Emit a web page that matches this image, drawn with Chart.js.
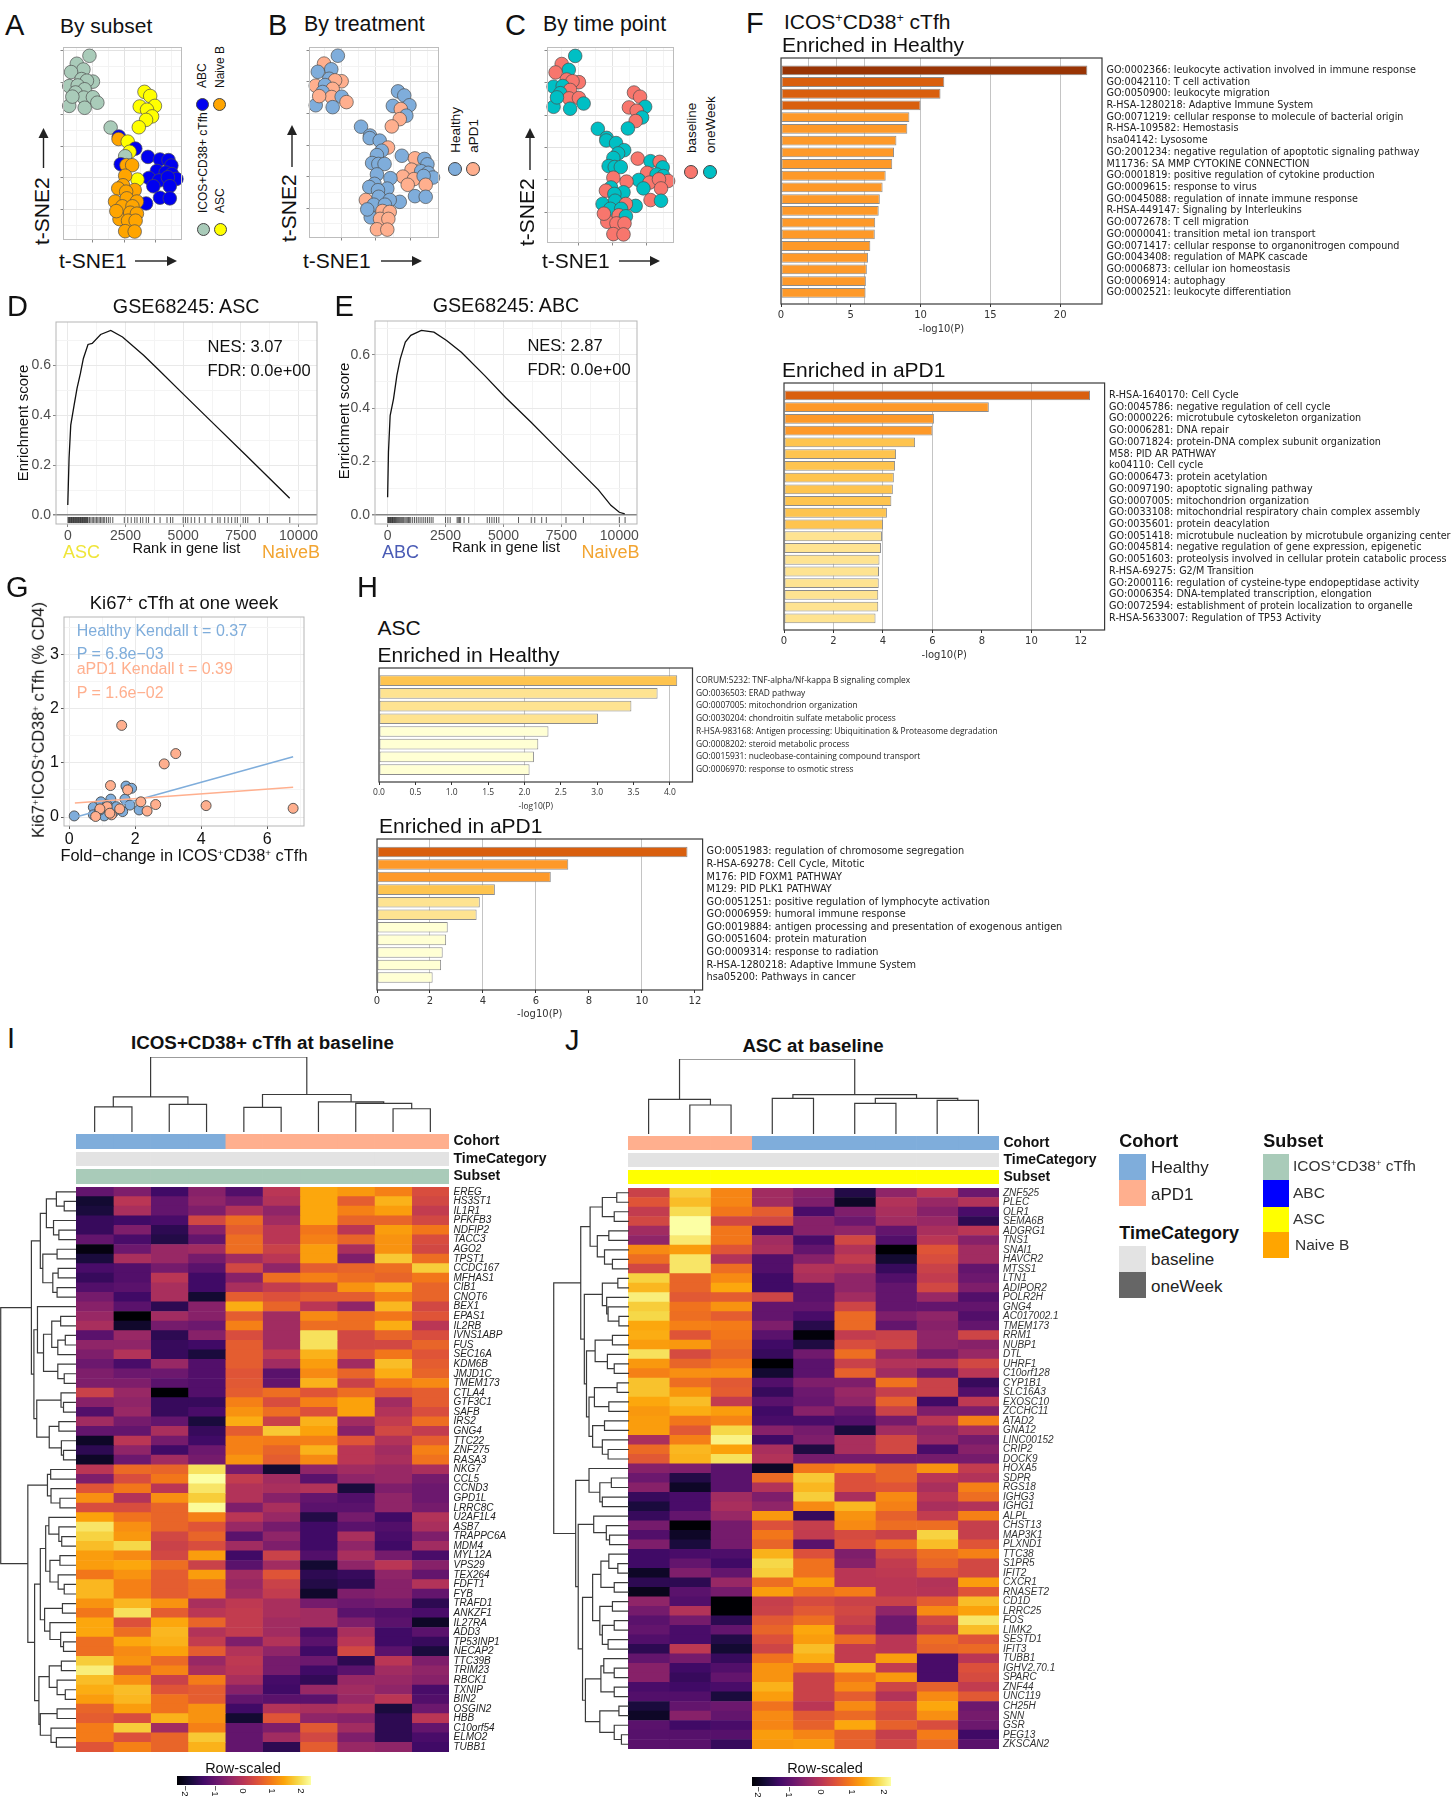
<!DOCTYPE html>
<html>
<head>
<meta charset="utf-8">
<title>Figure</title>
<script src="https://cdn.jsdelivr.net/npm/chart.js@4"></script>
<style>
  html, body { margin: 0; background: #fff; }
  #page { position: relative; width: 1453px; height: 1800px; overflow: hidden; font-family: "Liberation Sans", Arial, sans-serif; color: #111; }
  #page canvas { position: absolute; }
  .t { position: absolute; left: 0; top: 0; white-space: nowrap; line-height: 1; transform-origin: 0 0; }
  .swatch { position: absolute; }
  .dot { position: absolute; border-radius: 50%; border: 0.8px solid #444; box-sizing: border-box; }
  sup { font-size: 0.6em; line-height: 0; vertical-align: baseline; position: relative; top: -0.55em; }
</style>
</head>
<body>
<div id="page"></div>
<script>
// t-SNE panels A, B, C: one row per sample
const tsne1 = [-11.0,-15.0,-12.9,-16.8,-9.9,-13.5,-11.8,-17.4,-14.7,-12.5,-15.4,-12.8,-9.9,-8.5,-17.4,-12.5,-16.4,-4.3,
  6.4,8.2,4.9,9.7,7.2,8.8,6.9,4.6,-1.7,-1.8,1.1,3.5,1.7,0.3,-1.1,0.7,2.5,7.5,11.3,14.0,14.9,10.3,13.1,15.1,7.8,16.5,11.0,13.8,9.2,14.4,11.3,14.4,6.9,
  4.2,0.3,-0.4,3.3,-1.9,0.6,-2.9,0.8,4.0,-0.6,2.6,-1.5,1.9,4.0,1.2,3.6,0.3,3.3,-2.5];
const tsne2 = [28.3,25.8,24.0,23.2,20.2,21.0,20.5,18.8,19.0,17.8,16.8,15.2,15.3,13.6,12.6,12.0,15.5,5.8,
  17.0,15.7,12.4,12.6,11.4,9.3,8.2,5.9,3.0,2.2,1.4,-0.8,-1.8,-3.2,-5.7,-6.0,-6.0,-3.4,-4.2,-4.4,-6.1,-7.8,-8.3,-8.8,-10.0,-10.3,-10.8,-9.8,-12.6,-12.6,-16.2,-16.4,-18.0,
  -10.5,-9.3,-12.3,-13.8,-13.3,-14.3,-17.4,-16.4,-17.4,-18.9,-18.9,-22.9,-20.9,-21.2,-23.4,-23.4,-26.7,-26.8,-20.4];
const subsetCodes = 'IIIIIIIIIIIIIIIIII' + 'AAAAAAAA' + 'BNABAIBNN' + 'BBBBBBBBBBBBBBBB' + 'A' + 'NNNNNNNNNNNNNNNNNN';
const cohortCodes = 'HPHHPHPPHPHPHPHHPH' + 'HHHHPHPP' + 'HHHPHHHHHH' + 'PHHPHHPHPHPPHHH' + 'HHHHHHPHHHHHPPPPPPH';
const timeCodes = 'wbwbbbbwwbwbbwwwww' + 'bbbwbwbw' + 'wwwwwwwwwb' + 'wbwbwwwbbbwbbww' + 'bbwwbwwwbwwbbwbbbbb';
const subsetColors = { I: '#A9CBB9', B: '#0000F0', A: '#FFFF00', N: '#FFA500' };
const cohortColors = { H: '#7FADDB', P: '#FFAF8E' };
const timeColors = { b: '#F8766D', w: '#00BFC4' };

// GSEA panels D, E
const ascCurveRank = [0,55,128,274,400,547,675,876,1058,1423,1861,2372,3285,3923,5018,6204,7755,9617];
const ascCurveScore = [0.04,0.227,0.36,0.44,0.507,0.567,0.627,0.683,0.687,0.723,0.739,0.713,0.64,0.583,0.483,0.376,0.236,0.067];
const ascRug = [10,40,70,100,130,160,190,220,250,280,310,340,370,400,430,460,490,520,550,580,610,640,670,700,730,760,790,820,850,880,
  940,1000,1060,1120,1180,1240,1300,1360,1420,1480,1540,1600,1680,1760,1840,1950,2450,2600,2750,2900,3000,3150,3250,3400,3500,3750,
  4000,4300,4450,4550,5000,5100,5200,5350,5500,5700,5950,6250,6500,6600,6800,6950,7100,7250,7350,7600,7700,7800,8300,8650,9620];
const abcCurveRank = [0,36,109,255,400,545,764,1000,1455,2000,2545,3182,4182,5090,6182,7000,8182,9090,9636,10000,10236];
const abcCurveScore = [0.065,0.234,0.372,0.435,0.523,0.585,0.648,0.673,0.692,0.685,0.654,0.61,0.523,0.44,0.348,0.276,0.173,0.094,0.035,0.009,0.003];
const abcRug = [10,30,60,90,120,150,180,210,240,270,300,340,380,420,460,500,540,580,620,660,700,750,800,850,900,950,1000,1080,1160,
  1240,1320,1400,1480,1560,1640,1720,1800,1880,1960,2500,2600,2700,3000,3050,3100,3150,3300,3500,4300,4400,4500,4600,4700,4800,5650,6200,6350,6650,6850,7700,8450,10000,10250];
const rankTicks = [0,1250,2500,3750,5000,6250,7500,8750,10000];
const rankLabels = [0,2500,5000,7500,10000];
const ascScoreTicks = [0,0.1,0.2,0.3,0.4,0.5,0.6,0.7];
const abcScoreTicks = [0,0.1,0.2,0.3,0.4,0.5,0.6,0.7];
const scoreLabels = [0,0.2,0.4,0.6];

// Enrichment bars, panels F and H
const termsF1 = ['GO:0002366: leukocyte activation involved in immune response','GO:0042110: T cell activation','GO:0050900: leukocyte migration','R-HSA-1280218: Adaptive Immune System','GO:0071219: cellular response to molecule of bacterial origin','R-HSA-109582: Hemostasis','hsa04142: Lysosome','GO:2001234: negative regulation of apoptotic signaling pathway','M11736: SA MMP CYTOKINE CONNECTION','GO:0001819: positive regulation of cytokine production','GO:0009615: response to virus','GO:0045088: regulation of innate immune response','R-HSA-449147: Signaling by Interleukins','GO:0072678: T cell migration','GO:0000041: transition metal ion transport','GO:0071417: cellular response to organonitrogen compound','GO:0043408: regulation of MAPK cascade','GO:0006873: cellular ion homeostasis','GO:0006914: autophagy','GO:0002521: leukocyte differentiation'];
const valuesF1 = [21.95,11.7,11.43,10.0,9.2,9.05,8.27,8.1,7.97,7.5,7.28,7.08,7.0,6.75,6.72,6.4,6.23,6.15,6.08,6.06];
const termsF2 = ['R-HSA-1640170: Cell Cycle','GO:0045786: negative regulation of cell cycle','GO:0000226: microtubule cytoskeleton organization','GO:0006281: DNA repair','GO:0071824: protein-DNA complex subunit organization','M58: PID AR PATHWAY','ko04110: Cell cycle','GO:0006473: protein acetylation','GO:0097190: apoptotic signaling pathway','GO:0007005: mitochondrion organization','GO:0033108: mitochondrial respiratory chain complex assembly','GO:0035601: protein deacylation','GO:0051418: microtubule nucleation by microtubule organizing center','GO:0045814: negative regulation of gene expression, epigenetic','GO:0051603: proteolysis involved in cellular protein catabolic process','R-HSA-69275: G2/M Transition','GO:2000116: regulation of cysteine-type endopeptidase activity','GO:0006354: DNA-templated transcription, elongation','GO:0072594: establishment of protein localization to organelle','R-HSA-5633007: Regulation of TP53 Activity'];
const valuesF2 = [12.37,8.28,6.06,6.0,5.3,4.53,4.49,4.44,4.4,4.34,4.16,4.0,3.96,3.92,3.86,3.84,3.83,3.81,3.81,3.7];
const termsH1 = ['CORUM:5232: TNF-alpha/Nf-kappa B signaling complex','GO:0036503: ERAD pathway','GO:0007005: mitochondrion organization','GO:0030204: chondroitin sulfate metabolic process','R-HSA-983168: Antigen processing: Ubiquitination & Proteasome degradation','GO:0008202: steroid metabolic process','GO:0015931: nucleobase-containing compound transport','GO:0006970: response to osmotic stress'];
const valuesH1 = [4.1,3.83,3.47,3.01,2.33,2.19,2.13,2.07];
const termsH2 = ['GO:0051983: regulation of chromosome segregation','R-HSA-69278: Cell Cycle, Mitotic','M176: PID FOXM1 PATHWAY','M129: PID PLK1 PATHWAY','GO:0051251: positive regulation of lymphocyte activation','GO:0006959: humoral immune response','GO:0019884: antigen processing and presentation of exogenous antigen','GO:0051604: protein maturation','GO:0009314: response to radiation','R-HSA-1280218: Adaptive Immune System','hsa05200: Pathways in cancer'];
const valuesH2 = [11.72,7.22,6.56,4.45,3.88,3.76,2.67,2.61,2.48,2.42,2.1];

// Panel G
const healthyFold = [0.15,0.73,0.96,1.26,1.72,1.89,1.69,1.84,2.12,1.62,0.73,1.06,1.33,0.93,1.15,1.43];
const healthyKi67 = [0.02,0.18,0.28,0.33,0.57,0.53,0.33,0.22,0.13,0.1,0.04,0.02,0.08,0.13,0.22,0.19];
const apd1Fold = [1.59,3.23,2.88,1.25,1.77,2.17,2.62,2.36,4.15,6.79,1.15,0.93,1.53,0.8,1.28,1.23];
const apd1Ki67 = [1.69,1.17,0.98,0.58,0.5,0.28,0.23,0.11,0.21,0.16,0.19,0.15,0.15,0.01,0.04,0.07];
const healthyFitX = [0.15,6.79];
const healthyFitY = [-0.01,1.11];
const apd1FitX = [0.17,6.79];
const apd1FitY = [0.26,0.55];

// Heatmap I
const genesI = ['EREG','HS3ST1','IL1R1','PFKFB3','NDFIP2','TACC3','AGO2','TPST1','CCDC167','MFHAS1','CIB1','CNOT6','BEX1','EPAS1','IL2RB','IVNS1ABP','FUS','SEC16A','KDM6B','JMJD1C','TMEM173','CTLA4','GTF3C1','SAFB','IRS2','GNG4','TTC22','ZNF275','RASA3','NKG7','CCL5','CCND3','GPD1L','LRRC8C','U2AF1L4','ASB7','TRAPPC6A','MDM4','MYL12A','VPS29','TEX264','FDFT1','FYB','TRAFD1','ANKZF1','IL27RA','ADD3','TP53INP1','NECAP2','TTC39B','TRIM23','RBCK1','TXNIP','BIN2','OSGIN2','HBB','C10orf54','ELMO2','TUBB1'];
const heatI = [
[-1.0,-0.7,-1.4,-0.6,-1.2,0.0,1.4,1.25,1.0,0.4],
[-1.9,0.0,-1.0,-0.5,-0.8,-0.1,1.4,0.6,1.5,0.3],
[-1.8,-0.2,-1.0,-0.7,-0.1,-0.5,1.4,1.0,1.3,0.1],
[-1.5,-1.4,-1.3,0.3,0.8,-0.3,1.4,0.7,0.7,0.3],
[-1.5,-0.7,-1.6,-0.6,0.6,0.0,0.9,0.0,1.3,0.9],
[-1.0,-1.3,-1.7,-1.0,0.8,0.0,1.0,0.7,1.2,0.4],
[-2.2,-0.9,-0.4,-0.3,0.8,0.2,1.3,-0.2,1.2,0.3],
[-1.8,-0.2,-0.4,-0.8,-0.3,0.0,1.3,-0.7,1.7,0.8],
[-1.3,-1.2,-0.8,-1.1,0.3,-0.5,0.6,0.7,0.8,1.75],
[-1.5,-1.2,0.0,-1.4,-0.6,0.8,1.0,0.8,0.7,0.9],
[-1.2,-1.1,-0.2,-1.4,-0.2,0.1,0.3,1.2,1.5,0.7],
[-0.8,-1.4,-0.2,-1.9,0.6,0.45,0.6,0.6,1.0,0.7],
[-0.6,-1.1,-1.6,-0.6,1.45,0.7,0.0,-0.5,1.55,0.3],
[-0.4,-2.3,-0.3,-0.6,0.6,-0.3,1.1,0.8,0.9,0.5],
[-0.2,-1.95,-0.8,-0.9,1.0,-0.3,0.8,0.8,1.45,0.0],
[-1.1,-0.4,-1.6,-0.6,0.4,-0.3,1.95,0.3,0.7,0.4],
[-0.5,-0.5,-1.5,-1.4,0.6,-0.3,1.95,0.3,0.3,0.7],
[-0.7,-0.1,-1.5,-1.8,0.6,0.05,1.5,0.5,0.9,0.5],
[-0.9,-1.3,-0.4,-1.2,0.6,-0.3,1.3,-0.3,1.6,0.6],
[-0.7,-0.9,-0.9,-1.2,0.5,-1.1,1.1,0.7,1.45,0.7],
[-0.7,-0.7,-1.1,-1.2,0.55,-1.0,1.5,0.2,0.9,1.1],
[0.2,-0.4,-2.3,-1.2,0.6,0.8,0.5,0.8,0.5,0.6],
[-0.6,-0.5,-1.5,-1.5,1.0,0.4,1.0,1.35,-0.3,0.6],
[-1.2,-0.4,-1.5,-1.3,1.2,0.8,0.45,1.35,-0.1,0.4],
[-0.3,-0.8,-1.0,-1.8,1.45,0.2,1.5,-0.3,0.1,0.8],
[-1.0,-1.0,-0.2,-1.5,0.6,1.7,1.35,-0.6,0.3,0.1],
[-2.0,0.0,-0.8,-1.4,1.0,0.95,1.0,0.5,-0.1,0.6],
[-1.6,-0.5,-1.4,-0.9,1.0,0.7,1.5,0.0,-0.3,1.0],
[-2.0,-0.9,-0.3,-0.8,1.2,0.6,1.1,0.0,-0.2,0.85],
[0.0,0.75,0.7,1.95,-0.8,-1.9,-0.5,-0.3,-0.4,-0.2],
[-0.7,0.4,0.9,2.3,0.1,-0.3,-1.1,-0.5,-0.4,-0.8],
[0.5,0.9,0.0,2.0,-0.1,-0.2,-0.1,-1.8,-0.7,-0.9],
[1.15,-0.1,1.15,1.75,-0.1,-0.6,-1.0,-1.2,-0.5,-0.9],
[0.4,0.4,0.7,2.25,-0.7,-0.2,-1.1,-1.1,-0.5,-0.8],
[1.35,0.85,0.7,1.0,0.0,-0.4,-1.7,-0.8,-1.4,-0.1],
[2.0,1.15,0.7,0.5,-0.4,-0.8,-1.4,-1.1,-1.2,-0.2],
[1.8,1.25,0.3,0.7,-1.1,-0.5,-1.4,-0.2,-1.3,-0.7],
[1.6,1.85,0.2,0.4,-0.3,-0.7,-1.4,-0.5,-1.4,-0.3],
[1.3,1.1,0.3,1.3,-1.4,0.2,-1.2,-0.2,-0.8,-1.3],
[1.3,1.4,0.8,0.2,-1.1,-0.3,-1.9,-0.5,0.0,-0.6],
[0.9,1.2,0.6,1.3,-0.3,0.5,-1.6,-1.5,-0.5,-1.0],
[1.55,1.0,0.6,0.8,-0.4,0.2,-1.7,-1.6,-0.6,-0.1],
[1.55,1.0,0.6,0.8,-0.3,0.1,-1.95,-0.7,-0.6,-1.0],
[1.2,1.55,1.2,-0.2,0.05,-0.2,-0.8,-0.9,-0.8,-1.6],
[0.9,1.95,0.6,0.0,0.1,-0.2,-0.3,-1.1,-1.2,-1.3],
[1.4,0.45,1.4,0.7,0.1,-0.3,-0.3,-0.7,-1.1,-2.0],
[1.4,0.8,1.55,-0.1,0.1,-0.3,-1.3,-0.2,-1.4,-1.1],
[0.8,1.4,1.5,0.1,-0.7,-0.1,-1.1,0.0,-1.4,-1.5],
[0.8,1.1,1.35,0.6,-0.1,-0.5,-1.4,0.3,-1.1,-1.8],
[1.75,1.2,0.75,-0.4,0.05,-0.8,-0.9,-1.6,0.0,-0.7],
[2.1,0.6,1.05,-0.2,0.0,-0.8,-1.4,-1.1,-0.3,-0.5],
[1.6,1.15,0.2,0.95,-0.2,-1.35,-1.55,-0.4,-0.4,-0.6],
[1.45,1.6,0.5,0.6,-0.6,-1.4,-0.4,-0.3,-0.5,-1.3],
[1.3,1.55,0.85,0.6,-1.0,-1.1,-1.1,-0.4,0.0,-1.2],
[0.7,1.3,0.85,1.2,-1.4,-0.1,-0.2,-0.1,-1.8,-0.9],
[0.6,0.4,1.5,1.2,-1.9,0.5,-0.5,-0.6,-1.6,0.0],
[0.95,1.75,-0.3,1.0,-1.0,-0.7,0.55,-0.3,-1.6,-1.0],
[0.95,0.45,0.7,1.7,-1.0,-0.3,0.3,-0.7,-1.6,-1.3],
[0.5,1.0,0.7,1.5,-1.0,-1.6,0.6,-0.4,-0.5,-1.4]];
const cohortI = ['Healthy','Healthy','Healthy','Healthy','aPD1','aPD1','aPD1','aPD1','aPD1','aPD1'];

// Heatmap J
const genesJ = ['ZNF525','PLEC','OLR1','SEMA6B','ADGRG1','TNS1','SNAI1','HAVCR2','MTSS1','LTN1','ADIPOR2','POLR2H','GNG4','AC017002.1','TMEM173','RRM1','NUBP1','DTL','UHRF1','C10orf128','CYP1B1','SLC16A3','EXOSC10','ZCCHC11','ATAD2','GNA12','LINC00152','CRIP2','DOCK9','HOXA5','SDPR','RGS18','IGHG3','IGHG1','ALPL','CHST13','MAP3K1','PLXND1','TTC38','S1PR5','IFIT2','CXCR1','RNASET2','CD1D','LRRC25','FOS','LIMK2','SESTD1','IFIT3','TUBB1','IGHV2.70.1','SPARC','ZNF44','UNC119','CH25H','SNN','GSR','PEG13','ZKSCAN2'];
const heatJ = [
[0.2,1.75,1.05,-0.3,-0.6,-1.7,-0.5,0.0,-0.9],
[0.5,1.6,1.05,-0.3,-0.7,-2.0,-0.1,-0.4,-0.1],
[0.1,1.9,0.9,0.6,-1.3,-0.7,-0.2,-0.6,-1.3],
[0.3,2.3,0.3,0.3,-0.6,-0.9,-0.3,-0.4,-1.6],
[-0.3,2.3,0.9,-1.3,-0.6,-0.5,-1.0,-0.2,0.0],
[-0.5,2.05,0.9,-0.3,-1.3,0.3,-1.2,0.0,-0.6],
[1.1,1.3,0.5,-0.2,-1.0,-0.1,-2.3,0.5,-0.3],
[0.8,2.0,-0.1,-1.2,-0.6,0.1,-1.9,0.4,-0.3],
[0.3,2.0,0.8,-1.2,-0.1,-0.2,-1.5,0.2,-1.0],
[1.8,0.7,1.1,-1.4,-0.2,-0.5,-1.2,0.1,-0.9],
[1.55,0.7,1.4,-1.4,-1.1,-0.5,-1.0,0.3,-0.7],
[2.1,0.55,0.6,0.25,-1.1,-0.3,-1.0,-0.4,-1.2],
[1.75,0.85,1.2,-1.0,-1.0,0.25,-1.0,-1.0,-1.0],
[1.85,0.8,0.6,-1.0,-1.3,0.75,-0.7,-0.5,-1.2],
[1.4,1.0,0.95,-0.7,-1.65,0.75,-1.0,-0.6,-1.0],
[1.45,0.5,0.9,-1.1,-2.25,0.1,0.2,-0.5,0.25],
[1.3,1.25,0.8,-1.4,-1.75,0.4,0.25,-0.5,-0.6],
[1.95,0.35,0.7,-1.5,-0.85,0.8,-0.4,-0.8,-0.4],
[1.25,0.7,0.9,-2.3,-1.1,0.2,-0.1,-0.1,0.3],
[1.0,1.15,1.15,-1.9,-1.1,0.65,-0.3,-0.9,0.0],
[1.65,0.8,0.55,-1.2,-0.7,-0.7,0.85,0.2,-1.5],
[1.65,1.25,0.6,-1.5,-0.9,-0.4,0.15,0.2,-1.2],
[1.4,1.6,0.1,-1.1,-0.95,-0.5,0.65,-1.4,0.05],
[1.25,1.45,1.3,-1.4,-0.6,-1.0,0.2,-0.7,-0.7],
[1.3,0.9,1.05,-1.3,-1.3,-1.2,-0.8,0.0,1.0],
[1.3,0.55,1.85,-0.6,-0.8,-1.8,-0.3,-0.5,-0.2],
[-0.2,1.0,2.15,-1.4,-0.7,-0.2,0.3,-0.4,-0.8],
[0.75,1.55,1.35,-0.2,-1.75,-0.2,0.3,-1.3,-0.6],
[0.55,1.5,1.95,-0.1,-0.8,-0.8,-0.8,-0.8,-0.8],
[-0.6,-0.7,-1.1,-2.0,0.9,1.05,0.7,1.2,0.1],
[-0.9,-1.7,-1.1,0.75,1.7,0.45,0.7,0.0,-0.1],
[-0.6,-2.0,-1.1,-0.1,1.55,0.45,0.5,-0.2,1.0],
[-1.5,-1.3,-0.3,-0.7,1.75,-0.2,1.1,0.0,0.8],
[-1.8,-1.3,-0.2,-0.5,1.1,1.55,1.0,-0.2,-0.1],
[-1.5,-1.0,-0.4,1.25,-1.5,1.2,0.65,0.1,1.0],
[-0.8,-2.3,-0.8,0.45,0.15,1.1,0.8,0.8,0.15],
[-1.2,-2.0,-0.8,0.9,0.1,0.35,0.2,1.8,0.15],
[-0.7,-1.8,-0.8,0.7,-1.1,0.45,0.85,1.6,0.5],
[-1.4,-1.3,-1.25,1.5,0.45,-0.7,0.3,0.8,1.0],
[-1.4,-1.0,-1.4,1.85,0.85,-0.6,0.1,0.7,0.3],
[-2.0,-0.7,-1.0,1.75,0.85,0.0,0.05,0.45,0.3],
[-1.6,-1.6,-0.4,0.8,1.3,0.0,0.0,-0.1,1.3],
[-2.1,-1.1,-0.8,1.3,0.8,0.95,0.0,-0.05,0.5],
[-0.5,-1.2,-2.3,0.15,0.35,0.2,0.2,0.6,1.6],
[-0.8,-0.1,-2.3,0.2,0.55,0.3,-0.5,1.1,1.35],
[-1.1,-0.8,-1.6,0.55,0.8,0.2,-0.9,0.3,2.0],
[-1.0,-1.3,-1.0,0.7,1.4,0.0,-0.9,0.05,1.6],
[-1.2,-1.3,-1.7,0.45,1.3,0.75,0.0,0.8,0.5],
[-1.6,0.05,-1.9,0.25,1.6,0.1,0.0,0.7,0.75],
[-1.0,-0.8,-1.5,0.85,1.45,0.1,1.3,-1.3,0.0],
[-0.6,-1.4,-1.2,1.2,0.8,1.5,0.1,-1.3,0.45],
[-0.6,-1.5,-1.0,1.2,0.2,0.9,1.25,-1.3,0.35],
[-1.3,-1.4,-1.3,1.5,0.2,1.1,0.25,0.65,0.1],
[-1.2,-1.2,-1.8,1.3,0.2,0.6,-0.1,1.1,0.55],
[-1.8,-1.0,-0.9,0.85,0.0,1.1,0.45,1.4,-0.9],
[-2.0,-0.6,-1.0,1.1,0.55,0.75,0.35,1.15,-0.8],
[-1.1,-1.4,-1.3,1.05,0.65,1.4,0.65,0.4,-0.9],
[-1.15,-1.15,-1.15,1.3,1.05,0.65,0.15,0.95,-1.4],
[-1.1,-1.1,-1.5,1.25,1.3,0.65,0.3,0.75,-1.1]];
const cohortJ = ['aPD1','aPD1','aPD1','Healthy','Healthy','Healthy','Healthy','Healthy','Healthy'];

// dendrograms: [height, childA, childB], L is a leaf
const L = 0;
const topTreeI = [226,[106,[76,L,L],[83,L,L]],[113,[74,L,L],[91,L,[86,L,[70,L,L]]]]];
const topTreeJ = [225,[104,L,[87,L,L]],[118,[107,L,L],[107,[92,L,L],[101,L,L]]]];
const rowTreeI = [211,
  [125,
    [100,
      [83,[55,L,[33,L,L]],[63,L,[48,L,L]]],
      [93,[53,L,L],[65,[50,L,L],[53,L,L]]]],
    [118,
      [108,L,[91,[68,[43,L,L],[51,[30,L,L],L]],[51,L,[33,L,L]]]],
      [110,[42,L,[35,L,L]],[75,[48,L,L],[41,L,[35,L,L]]]]]],
  [135,
    [80,[71,L,L],[70,L,[45,L,L]]],
    [116,
      [100,
        [85,[76,L,[48,L,[40,L,L]]],[73,[45,L,L],[50,L,[33,L,L]]]],
        [88,[38,L,L],[73,L,[43,L,[35,L,L]]]]],
      [104,
        [75,[41,L,L],[53,L,[30,L,L]]],
        [100,[53,L,L],[70,L,[55,L,L]]]]]]];
const rowTreeJ = [209,
  [134,
    [108,[74,[34,L,L],[41,L,L]],[88,[56,L,L],[68,L,[46,L,L]]]],
    [124,
      [74,[31,L,L],[62,L,[58,L,[28,L,L]]]],
      [118,
        [94,[46,L,L],[60,L,[41,L,L]]],
        [111,[96,[33,L,L],[56,L,L]],[101,[68,L,L],[74,L,[58,L,L]]]]]]],
  [148,
    [111,L,[81,[49,L,L],[74,L,L]]],
    [141,
      [98,L,[63,L,[54,L,L]]],
      [129,
        [101,[78,[56,L,[31,L,L]],[41,L,L]],[81,[46,L,L],[74,[41,L,L],[58,L,L]]]],
        [121,[78,[70,L,[41,L,L]],[41,L,L]],[81,[28,L,L],[41,L,[21,L,L]]]]]]]];

const inferno = ['#000004','#160B39','#420A68','#6A176E','#932667','#BA3655','#DD513A','#F37819','#FCA50A','#F6D746','#FCFFA4'];
const heatMin = -2.3, heatMax = 2.3;
const groupColors = { Healthy: '#7FADDB', aPD1: '#FFAF8E' };

const page = document.getElementById('page');
Chart.defaults.animation = false;
Chart.defaults.responsive = false;
Chart.defaults.font.family = '"Liberation Sans", Arial, sans-serif';
Chart.defaults.plugins.legend.display = false;
Chart.defaults.plugins.tooltip.enabled = false;

Chart.register({
  id: 'plotBox',
  afterDraw(chart, args, opts) {
    if (!opts.color) return;
    const a = chart.chartArea, c = chart.ctx;
    c.save();
    c.strokeStyle = opts.color;
    c.lineWidth = opts.width || 1;
    c.strokeRect(a.left, a.top, a.right - a.left, a.bottom - a.top);
    c.restore();
  }
});

function canvasFor(box, m) {
  const el = document.createElement('canvas');
  const w = box[2] - box[0] + m.l + m.r, h = box[3] - box[1] + m.t + m.b;
  el.width = Math.round(w);
  el.height = Math.round(h);
  el.style.left = (box[0] - m.l) + 'px';
  el.style.top = (box[1] - m.t) + 'px';
  el.style.width = Math.round(w) + 'px';
  el.style.height = Math.round(h) + 'px';
  page.appendChild(el);
  return el;
}
const setTicks = list => s => { s.ticks = list.map(value => ({ value })); };

function text(html, x, y, o = {}) {
  const d = document.createElement('div');
  d.className = 't';
  d.innerHTML = html;
  d.style.fontSize = (o.size || 12) + 'px';
  if (o.weight) d.style.fontWeight = o.weight;
  if (o.color) d.style.color = o.color;
  if (o.font) d.style.fontFamily = o.font;
  if (o.rot !== undefined) {
    // x is the centre across the text, y is where it starts (or its middle if centred)
    const shift = o.align === 'center' ? 'translate(-50%,-50%)' : 'translate(0,-50%)';
    d.style.transform = `translate(${x}px,${y}px) rotate(${o.rot}deg) ${shift}`;
  } else {
    const ax = o.align === 'center' ? '-50%' : o.align === 'right' ? '-100%' : '0';
    d.style.transform = `translate(${x}px,${y}px) translate(${ax},-50%)`;
  }
  page.appendChild(d);
}
function square(x0, y0, x1, y1, color) {
  const d = document.createElement('div');
  d.className = 'swatch';
  d.style.cssText = `left:${x0}px;top:${y0}px;width:${x1 - x0}px;height:${y1 - y0}px;background:${color}`;
  page.appendChild(d);
}
function dot(x, y, r, color) {
  const d = document.createElement('div');
  d.className = 'dot';
  d.style.cssText = `left:${x - r}px;top:${y - r}px;width:${2 * r}px;height:${2 * r}px;background:${color}`;
  page.appendChild(d);
}
// arrows next to the t-SNE axis names
const svgNS = 'http://www.w3.org/2000/svg';
const overlay = document.createElementNS(svgNS, 'svg');
overlay.setAttribute('width', 1453);
overlay.setAttribute('height', 1800);
overlay.style.cssText = 'position:absolute;left:0;top:0;pointer-events:none';
page.appendChild(overlay);
function arrow(x1, y1, x2, y2) {
  const a = Math.atan2(y2 - y1, x2 - x1), len = 10, wide = 5;
  const bx = x2 - Math.cos(a) * len, by = y2 - Math.sin(a) * len;
  const line = document.createElementNS(svgNS, 'line');
  line.setAttribute('x1', x1); line.setAttribute('y1', y1);
  line.setAttribute('x2', bx); line.setAttribute('y2', by);
  line.setAttribute('stroke', '#222'); line.setAttribute('stroke-width', 1.4);
  overlay.appendChild(line);
  const head = document.createElementNS(svgNS, 'polygon');
  const px = -Math.sin(a) * wide, py = Math.cos(a) * wide;
  head.setAttribute('points', `${x2},${y2} ${bx + px},${by + py} ${bx - px},${by - py}`);
  head.setAttribute('fill', '#222');
  overlay.appendChild(head);
}

// ---------- t-SNE
const tsnePoints = tsne1.map((x, i) => ({ x, y: tsne2[i] }));
function tsneChart(box, codes, colors) {
  const m = { l: 4, r: 4, t: 4, b: 4 };
  const axisGrid = {
    color: c => c.tick.value % 10 === 0 ? '#E2E2E2' : '#F3F3F3',
    tickColor: c => c.tick.value % 10 === 0 ? '#888' : 'transparent',
    tickLength: 3
  };
  new Chart(canvasFor(box, m), {
    type: 'scatter',
    data: { datasets: [{
      data: tsnePoints,
      backgroundColor: tsnePoints.map((p, i) => colors[codes[i]]),
      borderColor: '#4d4d4d',
      borderWidth: 0.7,
      pointRadius: 6.8,
      clip: false
    }] },
    options: {
      layout: { padding: { top: m.t, right: m.r } },
      plugins: { plotBox: { color: '#BDBDBD', width: 1 } },
      scales: {
        x: { type: 'linear', min: -19.2, max: 18.1, afterBuildTicks: setTicks([-15,-10,-5,0,5,10,15]), afterFit: s => { s.height = m.b; }, ticks: { display: false }, grid: axisGrid, border: { display: false } },
        y: { type: 'linear', min: -29.3, max: 30.9, afterBuildTicks: setTicks([-25,-20,-15,-10,-5,0,5,10,15,20,25,30]), afterFit: s => { s.width = m.l; }, ticks: { display: false }, grid: axisGrid, border: { display: false } }
      }
    }
  });
}
tsneChart([60, 44, 185, 243], subsetCodes, subsetColors);
tsneChart([306, 44.3, 441.6, 241.7], cohortCodes, cohortColors);
tsneChart([544, 43.7, 676.6, 246], timeCodes, timeColors);

text('A', 5, 25, { size: 29 });
text('By subset', 60, 25, { size: 21 });
text('B', 268, 25, { size: 29 });
text('By treatment', 304, 25, { size: 21.3 });
text('C', 505, 25, { size: 29 });
text('By time point', 543, 25, { size: 21.3 });
text('t-SNE1', 59, 260, { size: 21 });
text('t-SNE1', 303, 260, { size: 21 });
text('t-SNE1', 542, 260, { size: 21 });
arrow(135, 261, 177, 261);
arrow(381, 261, 422, 261);
arrow(619, 261, 660, 261);
text('t-SNE2', 41, 245, { size: 21, rot: -90 });
text('t-SNE2', 288, 242, { size: 21, rot: -90 });
text('t-SNE2', 526, 246, { size: 21, rot: -90 });
arrow(43.5, 168, 43.5, 128);
arrow(292, 167, 292, 125);
arrow(530, 170, 530, 128);
text('ABC', 202, 88, { size: 12, rot: -90 });
text('Naive B', 220, 88, { size: 12, rot: -90 });
text('ICOS+CD38+ cTfh', 203, 213, { size: 12, rot: -90 });
text('ASC', 220, 213, { size: 12, rot: -90 });
dot(202, 104.7, 6.5, subsetColors.B);
dot(219, 104.7, 6.5, subsetColors.N);
dot(203, 229, 6.5, subsetColors.I);
dot(220, 229, 6.5, subsetColors.A);
text('Healthy', 455.6, 152.7, { size: 13.5, rot: -90 });
text('aPD1', 474, 152.7, { size: 13.5, rot: -90 });
dot(454.7, 169, 7, cohortColors.H);
dot(473, 169, 7, cohortColors.P);
text('baseline', 691.6, 153, { size: 13.5, rot: -90 });
text('oneWeek', 711, 153, { size: 13.5, rot: -90 });
dot(690.7, 172, 7, timeColors.b);
dot(710, 172, 7, timeColors.w);

// ---------- GSEA
function gseaChart(box, ranks, scores, rug, xr, yr, scoreTicks) {
  const m = { l: 34, r: 22, t: 12, b: 20 };
  const tickFont = { size: 14, family: Chart.defaults.font.family };
  new Chart(canvasFor(box, m), {
    type: 'scatter',
    data: { datasets: [
      { data: ranks.map((x, i) => ({ x, y: scores[i] })), showLine: true, borderColor: '#111', borderWidth: 1.3, pointRadius: 0, fill: false },
      { data: rug.map(x => ({ x, y: -0.02 })), pointStyle: 'line', rotation: 90, pointRadius: 3, borderColor: 'rgba(0,0,0,0.65)', borderWidth: 1 }
    ] },
    options: {
      layout: { padding: { top: m.t, right: m.r } },
      plugins: { plotBox: { color: '#B5B5B5', width: 1 } },
      scales: {
        x: {
          type: 'linear', min: xr[0], max: xr[1], afterBuildTicks: setTicks(rankTicks), afterFit: s => { s.height = m.b; },
          ticks: { autoSkip: false, maxRotation: 0, padding: 1, color: '#4D4D4D', font: tickFont, callback: v => rankLabels.includes(v) ? String(v) : '' },
          grid: { color: c => rankLabels.includes(c.tick.value) ? '#E9E9E9' : '#F4F4F4', tickColor: c => rankLabels.includes(c.tick.value) ? '#888' : 'transparent', tickLength: 3 },
          border: { display: false }
        },
        y: {
          type: 'linear', min: yr[0], max: yr[1], afterBuildTicks: setTicks(scoreTicks), afterFit: s => { s.width = m.l; },
          ticks: { autoSkip: false, padding: 2, color: '#4D4D4D', font: tickFont, callback: v => scoreLabels.includes(v) ? v.toFixed(1) : '' },
          grid: {
            color: c => c.tick.value === 0 ? '#858585' : scoreLabels.includes(c.tick.value) ? '#E9E9E9' : '#F4F4F4',
            lineWidth: c => c.tick.value === 0 ? 1.5 : 1,
            tickColor: c => scoreLabels.includes(c.tick.value) ? '#888' : 'transparent', tickLength: 3
          },
          border: { display: false }
        }
      }
    }
  });
}
gseaChart([55.6, 321.7, 316.5, 524], ascCurveRank, ascCurveScore, ascRug, [-511, 10800], [-0.036, 0.773], ascScoreTicks);
gseaChart([374.6, 320.7, 636.4, 523.3], abcCurveRank, abcCurveScore, abcRug, [-545, 10764], [-0.035, 0.727], abcScoreTicks);

text('D', 7, 306.7, { size: 29 });
text('E', 334.6, 306, { size: 29 });
text('GSE68245: ASC', 186.2, 306.7, { size: 19.7, align: 'center' });
text('GSE68245: ABC', 506, 305.7, { size: 19.7, align: 'center' });
text('NES: 3.07', 207.5, 346, { size: 16.5 });
text('FDR: 0.0e+00', 207.5, 370, { size: 16.5 });
text('NES: 2.87', 527.4, 345, { size: 16.5 });
text('FDR: 0.0e+00', 527.4, 369, { size: 16.5 });
text('Enrichment score', 22, 423, { size: 15, rot: -90, align: 'center' });
text('Enrichment score', 343, 421, { size: 15, rot: -90, align: 'center' });
text('Rank in gene list', 186.4, 548, { size: 14.6, align: 'center' });
text('Rank in gene list', 506, 547, { size: 14.6, align: 'center' });
text('ASC', 63, 552, { size: 18, color: '#EFE539' });
text('NaiveB', 262, 552, { size: 18, color: '#F2A431' });
text('ABC', 382, 552, { size: 18, color: '#4A5BB5' });
text('NaiveB', 581.6, 552, { size: 18, color: '#F2A431' });

// ---------- Enrichment bars
function enrichColor(v) {
  if (v >= 20) return '#993404';
  if (v >= 10) return '#D95F0E';
  if (v >= 6) return '#FE9929';
  if (v >= 4) return '#FEC44F';
  if (v >= 3) return '#FEE391';
  return '#FFFFD4';
}
function enrichChart(box, terms, values, yr, o) {
  const m = { l: 12, r: 1453 - box[2] - 1, t: 16, b: o.bottom };
  const labels = o.labels;
  const all = [...new Set(labels.concat(o.grid))].sort((a, b) => a - b);
  const family = o.family || '"DejaVu Sans"';
  new Chart(canvasFor(box, m), {
    type: 'bar',
    data: { datasets: [{
      data: values.map((x, i) => ({ x, y: i })),
      backgroundColor: values.map(enrichColor),
      borderColor: '#8C8C8C',
      borderWidth: 1,
      borderSkipped: false,
      barPercentage: 0.84,
      categoryPercentage: 1
    }] },
    options: {
      indexAxis: 'y',
      layout: { padding: { top: m.t, left: m.l } },
      plugins: { plotBox: { color: '#3A3A3A', width: 1.2 } },
      scales: {
        x: {
          type: 'linear', min: 0, max: o.max, afterBuildTicks: setTicks(all), afterFit: s => { s.height = m.b; },
          ticks: { autoSkip: false, maxRotation: 0, padding: 2, color: '#333', font: { family, size: o.tickSize || 10 }, callback: v => labels.includes(v) ? (o.fixed ? v.toFixed(1) : String(v)) : '' },
          grid: { color: c => o.grid.includes(c.tick.value) ? '#C4C4C4' : 'transparent', tickColor: c => labels.includes(c.tick.value) ? '#333' : 'transparent', tickLength: 3 },
          border: { display: false },
          title: { display: true, text: '-log10(P)', color: '#333', font: { family, size: o.tickSize || 10 }, padding: 0 }
        },
        y: {
          type: 'linear', position: 'right', reverse: true, offset: false, min: yr[0], max: yr[1],
          afterBuildTicks: setTicks(terms.map((t, i) => i)), afterFit: s => { s.width = m.r; },
          ticks: { autoSkip: false, padding: o.textGap, color: '#222', font: { family, size: o.termSize || 9.65 }, callback: v => terms[v] },
          grid: { display: false, drawTicks: false },
          border: { display: false }
        }
      }
    }
  });
}
enrichChart([780.7, 58, 1102, 304], termsF1, valuesF1, [-1.05, 19.95],
  { max: 23, labels: [0,5,10,15,20], grid: [2,4,6,10,15,20], bottom: 31, textGap: 4.5 });
enrichChart([783.6, 383.3, 1104.6, 630], termsF2, valuesF2, [-1.06, 19.99],
  { max: 12.96, labels: [0,2,4,6,8,10,12], grid: [2,4,6,10], bottom: 31, textGap: 4.5 });
enrichChart([379.4, 668.3, 692.5, 782.3], termsH1, valuesH1, [-1, 7.98],
  { max: 4.31, labels: [0,0.5,1,1.5,2,2.5,3,3.5,4], grid: [2,4], bottom: 30, textGap: 3.5, fixed: true, family: '"Open Sans"', tickSize: 8.5, termSize: 8.4 });
enrichChart([376.6, 839.3, 702.6, 990.7], termsH2, valuesH2, [-1.03, 10.99],
  { max: 12.29, labels: [0,2,4,6,8,10,12], grid: [2,4,6,10], bottom: 30, textGap: 4, termSize: 9.75 });

text('F', 746, 23, { size: 29 });
text('ICOS<sup>+</sup>CD38<sup>+</sup> cTfh', 784, 21.7, { size: 21 });
text('Enriched in Healthy', 782, 44, { size: 21 });
text('Enriched in aPD1', 782, 369, { size: 21 });
text('H', 357, 587, { size: 29 });
text('ASC', 377.5, 627, { size: 21 });
text('Enriched in Healthy', 377.5, 654, { size: 21 });
text('Enriched in aPD1', 379, 825.7, { size: 21 });

// ---------- Panel G
(function () {
  const box = [64, 616.7, 304.3, 826];
  const m = { l: 24, r: 6, t: 12, b: 22 };
  const tickFont = { size: 16 };
  const labelX = [0,2,4,6], labelY = [0,1,2,3];
  new Chart(canvasFor(box, m), {
    type: 'scatter',
    data: { datasets: [
      { order: 1, data: apd1Fold.map((x, i) => ({ x, y: apd1Ki67[i] })), backgroundColor: groupColors.aPD1, borderColor: '#4A4A4A', borderWidth: 0.9, pointRadius: 5 },
      { order: 2, data: apd1FitX.map((x, i) => ({ x, y: apd1FitY[i] })), showLine: true, borderColor: groupColors.aPD1, borderWidth: 1.5, pointRadius: 0 },
      { order: 3, data: healthyFitX.map((x, i) => ({ x, y: healthyFitY[i] })), showLine: true, borderColor: groupColors.Healthy, borderWidth: 1.5, pointRadius: 0 },
      { order: 4, data: healthyFold.map((x, i) => ({ x, y: healthyKi67[i] })), backgroundColor: groupColors.Healthy, borderColor: '#4A4A4A', borderWidth: 0.9, pointRadius: 5 }
    ] },
    options: {
      layout: { padding: { top: m.t, right: m.r } },
      plugins: { plotBox: { color: '#B5B5B5', width: 1 } },
      scales: {
        x: {
          type: 'linear', min: -0.16, max: 7.12, afterBuildTicks: setTicks([0,1,2,3,4,5,6,7]), afterFit: s => { s.height = m.b; },
          ticks: { autoSkip: false, maxRotation: 0, padding: 1, color: '#111', font: tickFont, callback: v => labelX.includes(v) ? String(v) : '' },
          grid: { color: c => labelX.includes(c.tick.value) ? '#EAEAEA' : '#F5F5F5', tickColor: c => labelX.includes(c.tick.value) ? '#555' : 'transparent', tickLength: 3 },
          border: { display: false }
        },
        y: {
          type: 'linear', min: -0.166, max: 3.69, afterBuildTicks: setTicks([0,0.5,1,1.5,2,2.5,3,3.5]), afterFit: s => { s.width = m.l; },
          ticks: { autoSkip: false, padding: 2, color: '#111', font: tickFont, callback: v => labelY.includes(v) ? String(v) : '' },
          grid: { color: c => labelY.includes(c.tick.value) ? '#EAEAEA' : '#F5F5F5', tickColor: c => labelY.includes(c.tick.value) ? '#555' : 'transparent', tickLength: 3 },
          border: { display: false }
        }
      }
    }
  });
})();
text('G', 6, 587, { size: 29 });
text('Ki67<sup>+</sup> cTfh at one week', 184, 603, { size: 18.4, align: 'center' });
text('Healthy Kendall t = 0.37', 76.7, 631, { size: 16, color: '#7FADDB' });
text('P = 6.8e−03', 76.7, 654, { size: 16, color: '#7FADDB' });
text('aPD1 Kendall t = 0.39', 76.7, 669, { size: 16, color: '#FFAF8E' });
text('P = 1.6e−02', 76.7, 692.6, { size: 16, color: '#FFAF8E' });
text('Ki67<sup>+</sup>ICOS<sup>+</sup>CD38<sup>+</sup> cTfh (% CD4)', 38, 720, { size: 16.4, rot: -90, align: 'center' });
text('Fold−change in ICOS<sup>+</sup>CD38<sup>+</sup> cTfh', 184, 855, { size: 16.4, align: 'center' });

// ---------- Heatmaps
function valueColor(v) {
  const t = Math.min(1, Math.max(0, (v - heatMin) / (heatMax - heatMin))) * (inferno.length - 1);
  const i = Math.min(inferno.length - 2, Math.floor(t)), f = t - i;
  const rgb = h => [1, 3, 5].map(k => parseInt(h.slice(k, k + 2), 16));
  const a = rgb(inferno[i]), b = rgb(inferno[i + 1]);
  return `rgb(${a.map((c, k) => Math.round(c + (b[k] - c) * f)).join(',')})`;
}
function cellRows(box, names, colors, font, right, pad, color) {
  const m = { l: 0, r: right, t: 13, b: 13 };
  const nCol = colors[0].length;
  const datasets = [];
  for (let c = 0; c < nCol; c++) {
    datasets.push({ data: names.map(() => 1), backgroundColor: colors.map(row => row[c]), borderWidth: 0, barPercentage: 1, categoryPercentage: 1 });
  }
  new Chart(canvasFor(box, m), {
    type: 'bar',
    data: { labels: names, datasets },
    options: {
      indexAxis: 'y',
      layout: { padding: { top: m.t, bottom: m.b } },
      scales: {
        x: { type: 'linear', stacked: true, min: 0, max: nCol, display: false },
        y: {
          type: 'category', stacked: true, position: 'right', afterFit: s => { s.width = m.r; },
          ticks: { autoSkip: false, padding: pad, color, font },
          grid: { display: false, drawTicks: false }, border: { display: false }
        }
      }
    }
  });
}
function walkTree(node, links, counter) {
  if (node === L) return { pos: counter.n++, h: 0 };
  const a = walkTree(node[1], links, counter), b = walkTree(node[2], links, counter);
  links.push([a.pos, a.h], [a.pos, node[0]], [b.pos, node[0]], [b.pos, b.h], [NaN, NaN]);
  return { pos: (a.pos + b.pos) / 2, h: node[0] };
}
function dendrogram(box, tree, count, horizontal, maxH) {
  const links = [];
  walkTree(tree, links, { n: 0 });
  const m = { l: 1, r: 1, t: 1, b: 1 };
  const data = links.map(p => horizontal ? { x: p[1], y: p[0] } : { x: p[0], y: p[1] });
  const posScale = { type: 'linear', min: -0.5, max: count - 0.5, display: false };
  const hScale = { type: 'linear', min: 0, max: maxH, display: false };
  new Chart(canvasFor(box, m), {
    type: 'scatter',
    data: { datasets: [{ data, showLine: true, spanGaps: false, borderColor: '#3A3A3A', borderWidth: 1.2, pointRadius: 0 }] },
    options: {
      layout: { padding: 1 },
      scales: horizontal
        ? { x: { ...hScale, reverse: true }, y: { ...posScale, reverse: true } }
        : { x: posScale, y: hScale }
    }
  });
}
function annotRow(box, colors, name, right) {
  cellRows(box, [name], [colors], { weight: 'bold', size: 14 }, right, 4.5, '#111');
}

const heatBoxI = [76, 1186.7, 449.3, 1751.7];
cellRows(heatBoxI, genesI, heatI.map(r => r.map(valueColor)), { style: 'italic', size: 10 }, 70, 4.5, '#222');
dendrogram([76, 1056.7, 449.3, 1132], topTreeI, 10, false, 226);
dendrogram([0, 1186.7, 76, 1751.7], rowTreeI, genesI.length, true, 213);
annotRow([76, 1134, 449.3, 1148.7], cohortI.map(c => groupColors[c]), 'Cohort', 120);
annotRow([76, 1151.7, 449.3, 1165.7], cohortI.map(() => '#E3E3E3'), 'TimeCategory', 120);
annotRow([76, 1169, 449.3, 1183.7], cohortI.map(() => subsetColors.I), 'Subset', 120);

const heatBoxJ = [628, 1188.3, 999, 1749.3];
cellRows(heatBoxJ, genesJ, heatJ.map(r => r.map(valueColor)), { style: 'italic', size: 10 }, 70, 4, '#333');
dendrogram([628, 1059, 999, 1134], topTreeJ, 9, false, 225);
dendrogram([552.5, 1188.3, 628, 1749.3], rowTreeJ, genesJ.length, true, 211);
annotRow([628, 1135.7, 999, 1149.7], cohortJ.map(c => groupColors[c]), 'Cohort', 120);
annotRow([628, 1152.7, 999, 1167], cohortJ.map(() => '#E3E3E3'), 'TimeCategory', 120);
annotRow([628, 1170, 999, 1184.3], cohortJ.map(() => '#FFFF00'), 'Subset', 120);

text('I', 7, 1038, { size: 29 });
text('J', 565, 1040, { size: 29 });
text('ICOS+CD38+ cTfh at baseline', 262.5, 1043, { size: 18.8, weight: 'bold', align: 'center' });
text('ASC at baseline', 813, 1046, { size: 18.7, weight: 'bold', align: 'center' });

function colorBar(box, title, titleX, titleY, tickXs, tickY) {
  const m = { l: 0, r: 0, t: 0, b: 0 };
  new Chart(canvasFor(box, m), {
    type: 'bar',
    data: { labels: ['scale'], datasets: [{
      data: [[heatMin, heatMax]],
      barPercentage: 1, categoryPercentage: 1, borderSkipped: false,
      backgroundColor: c => {
        const a = c.chart.chartArea;
        if (!a) return '#000';
        const g = c.chart.ctx.createLinearGradient(a.left, 0, a.right, 0);
        inferno.forEach((col, i) => g.addColorStop(i / (inferno.length - 1), col));
        return g;
      }
    }] },
    options: {
      indexAxis: 'y',
      scales: {
        x: { type: 'linear', min: heatMin, max: heatMax, display: false },
        y: { type: 'category', display: false }
      }
    }
  });
  text(title, titleX, titleY, { size: 14.5, align: 'center' });
  ['−2', '−1', '0', '1', '2'].forEach((s, i) => {
    text(s, tickXs[i], tickY, { size: 9.5, rot: 90, align: 'center' });
  });
}
colorBar([177, 1775.7, 311, 1784.7], 'Row-scaled', 243, 1768, [185.7, 215, 243.6, 272.5, 301.4], 1791);
colorBar([751.8, 1776.7, 891, 1785.7], 'Row-scaled', 825, 1768, [757.9, 789.3, 821, 852.5, 884], 1792);

// ---------- Heatmap legends
text('Cohort', 1119.3, 1141, { size: 18, weight: 'bold' });
square(1119.3, 1154, 1145.7, 1180, groupColors.Healthy);
square(1119.3, 1180, 1145.7, 1206, groupColors.aPD1);
text('Healthy', 1151, 1167, { size: 17, color: '#222' });
text('aPD1', 1151, 1194, { size: 17, color: '#222' });
text('TimeCategory', 1119.3, 1233, { size: 18, weight: 'bold' });
square(1119.3, 1246, 1145.7, 1272, '#E3E3E3');
square(1119.3, 1272, 1145.7, 1298.3, '#666666');
text('baseline', 1151, 1259.7, { size: 17, color: '#222' });
text('oneWeek', 1151, 1286, { size: 17, color: '#222' });
text('Subset', 1263.3, 1141, { size: 18, weight: 'bold' });
square(1263.3, 1154, 1289.3, 1180, subsetColors.I);
square(1263.3, 1180, 1289.3, 1207, '#0000FF');
square(1263.3, 1207, 1289.3, 1232, '#FFFF00');
square(1263.3, 1232, 1289.3, 1258, '#FFA500');
text('ICOS<sup>+</sup>CD38<sup>+</sup> cTfh', 1293, 1166, { size: 15.5, color: '#333' });
text('ABC', 1293, 1193, { size: 15.5, color: '#333' });
text('ASC', 1293, 1219, { size: 15.5, color: '#333' });
text('Naive B', 1295, 1245, { size: 15.5, color: '#333' });
</script>
</body>
</html>
